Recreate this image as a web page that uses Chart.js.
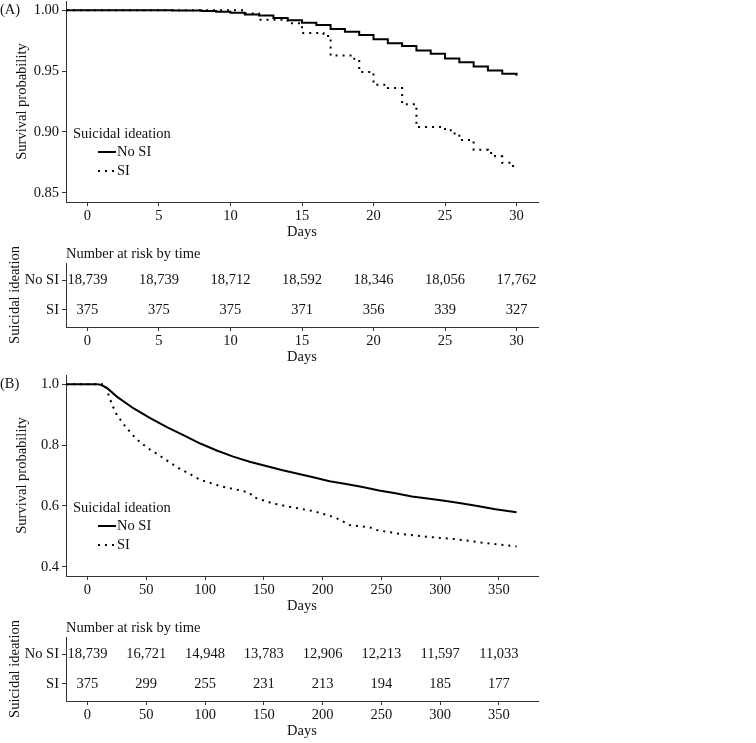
<!DOCTYPE html>
<html>
<head>
<meta charset="utf-8">
<script src="https://cdn.jsdelivr.net/npm/chart.js@4.4.1/dist/chart.umd.min.js"></script>
<style>
  html, body { margin: 0; padding: 0; background: #fff; }
  body { width: 756px; height: 743px; position: relative; overflow: hidden; }
  .box { position: absolute; left: 0; width: 548px; }
  .box canvas { display: block; }
</style>
</head>
<body>
<div class="box" style="top:0;height:245px"><canvas id="plotA"></canvas></div>
<div class="box" style="top:245px;height:125px"><canvas id="tableA"></canvas></div>
<div class="box" style="top:374px;height:245px"><canvas id="plotB"></canvas></div>
<div class="box" style="top:619px;height:125px"><canvas id="tableB"></canvas></div>

<script>
// ---- Panel A: 30-day survival (step curves) ----
const daysNoSiA = [-1.5, 0, 6, 8, 9, 10, 11, 12, 13, 14, 15, 16, 17, 18, 19, 20, 21, 22, 23, 24, 25, 26, 27, 28, 29, 30];
const survNoSiA = [1, 1, 0.9997, 0.9993, 0.9986, 0.9978, 0.9965, 0.9955, 0.9935, 0.9918, 0.9897, 0.9878, 0.9845, 0.9823, 0.9796, 0.9761, 0.9728, 0.9706, 0.9668, 0.9641, 0.9603, 0.9573, 0.9538, 0.9505, 0.9478, 0.9462];
const daysSiA = [-1.5, 0, 11, 12, 14, 15, 16.5, 17, 18.5, 19, 20, 21, 22, 23, 25, 25.5, 26, 27, 28, 28.5, 29, 29.5, 30];
const survSiA = [1, 1, 0.9973, 0.9922, 0.9893, 0.9813, 0.9787, 0.9627, 0.9600, 0.9493, 0.9387, 0.9360, 0.9227, 0.9040, 0.9013, 0.8987, 0.8933, 0.8853, 0.8827, 0.8800, 0.8747, 0.8720, 0.8720];
const xTicksA = [0, 5, 10, 15, 20, 25, 30];
const yTicksA = [0.85, 0.90, 0.95, 1.00];
const riskTimesA = [0, 5, 10, 15, 20, 25, 30];
const riskNoSiA = [18739, 18739, 18712, 18592, 18346, 18056, 17762];
const riskSiA = [375, 375, 375, 371, 356, 339, 327];

// ---- Panel B: 1-year survival ----
const daysNoSiB = [-18.25, 0, 8, 12, 17, 25, 39, 53, 68, 82, 96, 110, 124, 138, 152, 166, 180, 192, 206, 220, 234, 248, 262, 276, 291, 305, 319, 333, 347, 365];
const survNoSiB = [1, 1, 1, 0.997, 0.986, 0.959, 0.921, 0.889, 0.858, 0.832, 0.805, 0.782, 0.762, 0.745, 0.731, 0.717, 0.705, 0.694, 0.681, 0.672, 0.662, 0.651, 0.642, 0.631, 0.624, 0.616, 0.608, 0.599, 0.589, 0.579];
const daysSiB = [-18.25, 0, 15, 17, 21, 25, 31, 38, 45, 53, 62, 70, 79, 87, 96, 113, 130, 138, 141, 158, 175, 192, 206, 214, 223, 240, 246, 263, 288, 313, 339, 365];
const survSiB = [1, 1, 1, 0.975, 0.932, 0.899, 0.867, 0.835, 0.808, 0.786, 0.764, 0.743, 0.721, 0.705, 0.686, 0.665, 0.651, 0.643, 0.629, 0.608, 0.595, 0.583, 0.568, 0.556, 0.537, 0.530, 0.521, 0.510, 0.499, 0.491, 0.478, 0.467];
const xTicksB = [0, 50, 100, 150, 200, 250, 300, 350];
const yTicksB = [0.4, 0.6, 0.8, 1.0];
const riskTimesB = [0, 50, 100, 150, 200, 250, 300, 350];
const riskNoSiB = [18739, 16721, 14948, 13783, 12906, 12213, 11597, 11033];
const riskSiB = [375, 299, 255, 231, 213, 194, 185, 177];

const groupLabels = ['No SI', 'SI'];
const legendTitle = 'Suicidal ideation';

const FONT = '"Liberation Serif", "Times New Roman", serif';
const FONT_SIZE = 14.5;
const INK = '#111';
const AXIS = '#333';

Chart.defaults.font.family = FONT;
Chart.defaults.font.size = FONT_SIZE;
Chart.defaults.color = INK;

/**
 * Draws panel tag and the in-plot legend
 */
function kmDecor(tag) {
    return {
        id: 'kmDecor',
        afterDatasetsDraw(chart) {
            const ctx = chart.ctx;
            const top = chart.chartArea.top;
            ctx.save();
            ctx.font = `${FONT_SIZE}px ${FONT}`;
            ctx.fillStyle = INK;
            ctx.textBaseline = 'middle';
            ctx.textAlign = 'left';
            ctx.fillText(tag, 0, top + 9);

            ctx.fillText(legendTitle, 73, top + 133);
            chart.data.datasets.forEach((ds, i) => {
                const y = top + 151 + i * 19;
                ctx.strokeStyle = ds.borderColor;
                ctx.lineWidth = ds.borderWidth;
                ctx.setLineDash(ds.borderDash || []);
                ctx.beginPath();
                ctx.moveTo(98, y);
                ctx.lineTo(116, y);
                ctx.stroke();
                ctx.setLineDash([]);
                ctx.fillText(ds.label, 117, y);
            });
            ctx.restore();
        }
    };
}

/**
 * Writes the numbers at risk into the table chart
 */
function riskText(times, rows) {
    return {
        id: 'riskText',
        afterDatasetsDraw(chart) {
            const { ctx, chartArea, scales } = chart;
            ctx.save();
            ctx.font = `${FONT_SIZE}px ${FONT}`;
            ctx.fillStyle = INK;
            ctx.textBaseline = 'middle';
            ctx.textAlign = 'left';
            ctx.fillText('Number at risk by time', chartArea.left, chartArea.top - 9);
            ctx.textAlign = 'center';
            rows.forEach((row, r) => {
                row.forEach((n, i) => {
                    ctx.fillText(n.toLocaleString('en-US'),
                        scales.x.getPixelForValue(times[i]),
                        scales.y.getPixelForValue(r));
                });
            });
            ctx.restore();
        }
    };
}

// no extra room for overhanging tick labels, box sizes are fixed
function noPad(s) {
    s.paddingTop = 0;
    s.paddingBottom = 0;
    s.paddingLeft = 0;
    s.paddingRight = 0;
}

function xScale(min, max, ticks) {
    return {
        type: 'linear',
        min: min,
        max: max,
        afterBuildTicks: s => { s.ticks = ticks.map(v => ({ value: v })); },
        afterFit: s => { s.height = 43; noPad(s); },
        ticks: { padding: 1, color: INK, callback: v => String(v) },
        grid: { drawOnChartArea: false, drawTicks: true, tickLength: 4, tickColor: AXIS },
        border: { display: true, color: AXIS, width: 1 },
        title: { display: true, text: 'Days', color: INK, padding: { top: 4, bottom: 4 } }
    };
}

function line(label, days, surv, stepped, dashed) {
    return {
        label: label,
        data: days.map((d, i) => ({ x: d, y: surv[i] })),
        borderColor: '#000',
        borderWidth: 2,
        borderDash: dashed ? [2, 5] : [],
        borderCapStyle: 'butt',
        pointRadius: 0,
        stepped: stepped,
        tension: 0,
        fill: false
    };
}

function makePlot(id, tag, sets, xr, xTicks, yr, yTicks, digits) {
    new Chart(document.getElementById(id), {
        type: 'line',
        data: { datasets: sets },
        options: {
            responsive: true,
            maintainAspectRatio: false,
            animation: false,
            layout: { padding: { top: 1, right: 10, bottom: 0, left: 0 } },
            scales: {
                x: xScale(xr[0], xr[1], xTicks),
                y: {
                    type: 'linear',
                    min: yr[0],
                    max: yr[1],
                    afterBuildTicks: s => { s.ticks = yTicks.map(v => ({ value: v })); },
                    afterFit: s => { s.width = 66; noPad(s); },
                    ticks: { padding: 3, color: INK, callback: v => Number(v).toFixed(digits) },
                    grid: { drawOnChartArea: false, drawTicks: true, tickLength: 4, tickColor: AXIS },
                    border: { display: true, color: AXIS, width: 1 },
                    title: { display: true, text: 'Survival probability', color: INK, padding: { top: 13, bottom: 0 } }
                }
            },
            plugins: { legend: { display: false }, tooltip: { enabled: false } }
        },
        plugins: [kmDecor(tag)]
    });
}

function makeTable(id, xr, xTicks, times, rows) {
    new Chart(document.getElementById(id), {
        type: 'scatter',
        data: { datasets: [{ data: times.map(t => ({ x: t, y: 0 })), pointRadius: 0 }] },
        options: {
            responsive: true,
            maintainAspectRatio: false,
            animation: false,
            layout: { padding: { top: 18, right: 10, bottom: 0, left: 0 } },
            scales: {
                x: xScale(xr[0], xr[1], xTicks),
                y: {
                    type: 'linear',
                    reverse: true,
                    min: -0.567,
                    max: 1.567,
                    afterBuildTicks: s => { s.ticks = groupLabels.map((g, i) => ({ value: i })); },
                    afterFit: s => { s.width = 66; noPad(s); },
                    ticks: { padding: 3, color: INK, callback: v => groupLabels[v] },
                    grid: { drawOnChartArea: false, drawTicks: true, tickLength: 4, tickColor: AXIS },
                    border: { display: true, color: AXIS, width: 1 },
                    title: { display: true, text: legendTitle, color: INK, padding: { top: 6, bottom: 0 } }
                }
            },
            plugins: { legend: { display: false }, tooltip: { enabled: false } }
        },
        plugins: [riskText(times, rows)]
    });
}

makePlot('plotA', '(A)', [
    line(groupLabels[0], daysNoSiA, survNoSiA, true, false),
    line(groupLabels[1], daysSiA, survSiA, true, true)
], [-1.5, 31.5], xTicksA, [0.8425, 1.0075], yTicksA, 2);

makeTable('tableA', [-1.5, 31.5], xTicksA, riskTimesA, [riskNoSiA, riskSiA]);

makePlot('plotB', '(B)', [
    line(groupLabels[0], daysNoSiB, survNoSiB, false, false),
    line(groupLabels[1], daysSiB, survSiB, false, true)
], [-18.25, 383.25], xTicksB, [0.37, 1.03], yTicksB, 1);

makeTable('tableB', [-18.25, 383.25], xTicksB, riskTimesB, [riskNoSiB, riskSiB]);
</script>
</body>
</html>
